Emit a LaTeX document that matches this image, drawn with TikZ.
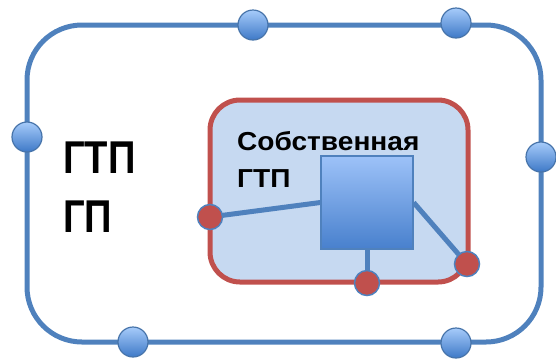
\documentclass[tikz,border=0pt]{standalone}
\usepackage{fontspec}
\setmainfont{Liberation Sans}
\definecolor{oblue}{HTML}{4F81BD}
\definecolor{ored}{HTML}{C0504D}
\definecolor{ofill}{HTML}{C6D9F1}
\definecolor{btop}{HTML}{A6CBFA}
\definecolor{bbot}{HTML}{3E79C7}
\definecolor{sqtop}{HTML}{9DC2F8}
\definecolor{sqbot}{HTML}{4880CD}
\pgfdeclarelayer{framelayer}
\pgfdeclarelayer{wirelayer}
\pgfsetlayers{framelayer,wirelayer,main}
\tikzset{
  bluedot/.style={circle, minimum size=30pt, inner sep=0pt, draw=oblue!90!black, line width=1.2pt, top color=btop, bottom color=bbot},
  reddot/.style={circle, minimum size=25pt, inner sep=0pt, draw=oblue, line width=1.5pt, fill=ored},
  wire/.style={draw=oblue, line width=5pt},
  sqbox/.style={rectangle, minimum width=92pt, minimum height=93pt, inner sep=0pt, draw=oblue, line width=1.3pt, top color=sqtop, bottom color=sqbot},
  bigtxt/.style={inner sep=0pt, anchor=base west, font=\fontsize{46}{50}\selectfont\bfseries},
  smalltxt/.style={inner sep=0pt, anchor=base west, font=\fontsize{26}{30}\selectfont\bfseries},
}
\begin{document}
\begin{tikzpicture}[x=1pt,y=-1pt]
\useasboundingbox (0,0) rectangle (556,360);
\begin{pgfonlayer}{framelayer}
% outer frame
\draw[oblue, line width=5pt, rounded corners=55pt] (27,25) rectangle (541,342);
% inner frame
\draw[ored, fill=ofill, line width=5pt, rounded corners=30pt] (210,100) rectangle (468,282);
\end{pgfonlayer}
% labels
\node[bigtxt] (t1) at (63,173) {\scalebox{0.83}[1]{ГТП}};
\node[bigtxt] (t2) at (63,232) {\scalebox{0.83}[1]{ГП}};
\node[smalltxt] (s1) at (237,150) {\scalebox{1.08}[1]{Собственная}};
\node[smalltxt] (s2) at (237,187) {\scalebox{1.08}[1]{ГТП}};
% square
\node[sqbox] (sq) at (367,202.5) {};
% red dots
\node[reddot] (r1) at (210,217) {};
\node[reddot] (r2) at (367,283) {};
\node[reddot] (r3) at (467,264) {};
% wires
\begin{pgfonlayer}{wirelayer}
\draw[wire] (r1.center) -- (sq.west);
\draw[wire] (sq.south) -- (r2.center);
\draw[wire] (sq.east) -- (r3.center);
\end{pgfonlayer}
% blue dots on the outer frame
\node[bluedot] (b1) at (253,25) {};
\node[bluedot] (b2) at (456,23) {};
\node[bluedot] (b3) at (27,137) {};
\node[bluedot] (b4) at (541,157) {};
\node[bluedot] (b5) at (133,342) {};
\node[bluedot] (b6) at (456,343) {};
\end{tikzpicture}
\end{document}
